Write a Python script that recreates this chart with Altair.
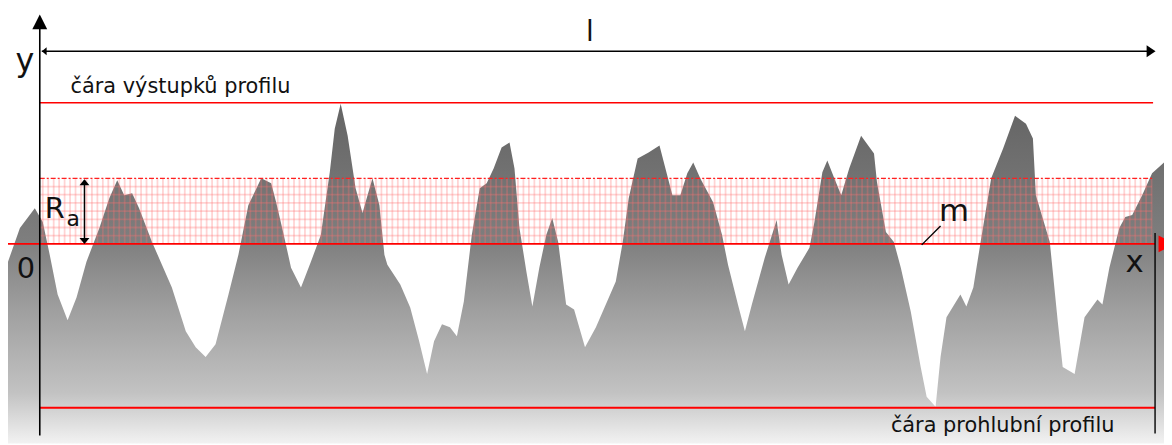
import altair as alt
import pandas as pd
import numpy as np

# Roughness profile: x = position along the sampling length, y = height relative to mean line m
PROFILE_X = [-3.2, -2.0, -0.5, 0.3, 1.0, 1.8, 2.8, 3.7, 4.7, 6.0,
             7.0, 7.8, 8.5, 9.3, 10.0, 11.3, 12.3, 13.3, 14.7, 15.7,
             16.7, 17.7, 19.0, 20.0, 21.0, 22.3, 23.3, 23.8, 24.5, 25.3,
             26.3, 27.3, 28.3, 29.2, 29.7, 30.3, 31.0, 31.8, 32.5, 32.8,
             33.5, 34.2, 34.7, 35.0, 36.3, 37.3, 38.2, 39.0, 39.7, 40.5,
             41.3, 42.0, 42.7, 43.5, 44.3, 45.0, 45.7, 46.5, 47.3, 47.8,
             48.3, 49.0, 49.6, 50.3, 51.0, 51.6, 52.2, 52.7, 53.0, 53.8,
             54.9, 56.0, 58.0, 58.7, 59.3, 60.2, 61.3, 62.4, 63.0, 63.7,
             64.5, 65.2, 65.8, 66.5, 67.8, 68.7, 69.3, 70.3, 71.0, 71.7,
             73.0, 74.2, 74.3, 74.7, 75.4, 76.3, 77.5, 78.0, 78.8, 79.3,
             80.0, 80.7, 81.5, 82.7, 84.0, 84.3, 85.2, 86.0, 86.7, 87.7,
             88.7, 89.3, 90.2, 90.7, 91.3, 92.7, 93.3, 94.0, 94.8, 95.8,
             97.0, 98.2, 99.3, 100.0, 100.3, 101.7, 102.5, 103.0, 104.2, 105.2,
             106.5, 107.0, 107.7, 108.7, 109.3, 110.0, 111.0, 112.0, 113.2]
PROFILE_Y = [-1.8, 1.6, 3.6, 2.2, -1.1, -5.1, -7.7, -5.4, -1.8, 1.6,
             4.6, 6.4, 4.9, 5.1, 3.6, 0.2, -2.1, -4.4, -8.8, -10.4,
             -11.4, -10.1, -5.1, -1.1, 3.9, 6.6, 6.1, 4.2, 1.2, -2.4,
             -4.4, -1.8, 0.9, 7.2, 11.6, 14.1, 10.9, 5.6, 3.1, 4.2,
             6.6, 3.9, -1.1, -2.1, -4.1, -6.4, -9.8, -13.1, -9.8, -8.1,
             -8.4, -9.3, -5.8, 0.9, 5.6, 6.1, 7.6, 9.7, 10.2, 7.6,
             1.6, -2.8, -6.3, -2.4, 0.9, 2.6, 0.2, -3.8, -6.1, -6.6,
             -10.4, -8.4, -3.8, 0.2, 4.6, 8.6, 9.2, 9.9, 7.6, 4.9,
             4.9, 7.1, 8.2, 6.6, 4.2, 0.9, -2.1, -6.1, -8.8, -6.1,
             -1.4, 2.4, 1.6, -1.1, -4.1, -2.4, -0.4, 2.2, 7.2, 8.4,
             6.6, 4.9, 7.6, 10.9, 9.1, 6.2, 1.2, 0.2, -2.4, -6.8,
             -12.4, -15.4, -16.4, -11.4, -7.4, -5.1, -6.3, -4.4, 0.6, 6.6,
             9.6, 12.9, 12.1, 10.6, 4.9, 0.2, -7.8, -12.4, -13.1, -7.4,
             -5.6, -6.1, -2.4, 1.6, 2.7, 2.9, 4.9, 7.1, 8.2]

# reference levels
L_START, L_END = 0.0, 112.0      # sampling length l
Y_PEAK = 14.2                    # čára výstupků profilu
Y_VALLEY = -16.5                 # čára prohlubní profilu
Y_RA = 6.6                       # Ra
Y_MEAN = 0.0                     # mean line m
X_MIN, X_MAX = -3.2, 113.2
Y_MIN, Y_MAX = -20.1, 23.6

# texts
TEXT_LEFT = ["čára výstupků profilu", "čára prohlubní profilu", "R", "a"]
TEXT_LEFT_X = [3.1, 85.7, 0.5, 2.7]
TEXT_LEFT_Y = [15.2, -18.9, 2.6, 1.8]
TEXT_LEFT_SIZE = [21, 21, 29, 22]
TEXT_CENTER = ["y", "l", "0", "m", "x"]
TEXT_CENTER_X = [-1.5, 55.4, -1.4, 92.05, 110.25]
TEXT_CENTER_Y = [17.4, 20.4, -3.4, 2.3, -2.8]
TEXT_CENTER_SIZE = [32, 28, 29, 31, 31]

W, H = 1164, 437
xs = alt.Scale(domain=[X_MIN, X_MAX], nice=False, zero=False)
ys = alt.Scale(domain=[Y_MIN, Y_MAX], nice=False, zero=False)


def X(f):
    return alt.X(f, type="quantitative", scale=xs, axis=None)


def Y(f):
    return alt.Y(f, type="quantitative", scale=ys, axis=None)


prof = pd.DataFrame({"x": PROFILE_X, "y": PROFILE_Y, "base": Y_MIN})
area = alt.Chart(prof).mark_area(
    interpolate="linear",
    color=alt.Gradient(
        gradient="linear", x1=1, x2=1, y1=0, y2=1,
        stops=[alt.GradientStop(color="#646464", offset=0),
               alt.GradientStop(color="#7e7e7e", offset=0.4),
               alt.GradientStop(color="#9e9e9e", offset=0.6),
               alt.GradientStop(color="#c2c2c2", offset=0.85),
               alt.GradientStop(color="#f2f2f2", offset=1)])
).encode(x=X("x"), y=Y("y"), y2=alt.Y2("base"))

# Ra band grid
gx = np.arange(L_START + 0.3, L_END, 0.55)
gy = np.linspace(Y_MEAN, Y_RA, 9)[1:-1]
vgrid = pd.DataFrame({"x": gx, "x2": gx, "y": Y_MEAN, "y2": Y_RA})
hgrid = pd.DataFrame({"x": L_START, "x2": L_END, "y": gy, "y2": gy})
grid = pd.concat([vgrid, hgrid])
grid_layer = alt.Chart(grid).mark_rule(color="#ff7070", opacity=0.3, strokeWidth=1.8).encode(
    x=X("x"), x2=alt.X2("x2"), y=Y("y"), y2=alt.Y2("y2"))

# red reference lines
red = pd.DataFrame({
    "x": [L_START, L_START, X_MIN],
    "x2": [L_END + 0.1, L_END + 0.3, L_END + 0.3],
    "y": [Y_PEAK, Y_VALLEY, Y_MEAN],
    "y2": [Y_PEAK, Y_VALLEY, Y_MEAN],
    "w": [1.5, 2.2, 1.6],
})
red_layer = alt.Chart(red).mark_rule(color="#ff0000").encode(
    x=X("x"), x2=alt.X2("x2"), y=Y("y"), y2=alt.Y2("y2"),
    strokeWidth=alt.StrokeWidth("w:Q", scale=None))
ra_top = pd.DataFrame({"x": [L_START], "x2": [L_END], "y": [Y_RA], "y2": [Y_RA]})
ra_layer = alt.Chart(ra_top).mark_rule(color="#ff2020", strokeWidth=1.2, strokeDash=[5, 2, 2, 2]).encode(
    x=X("x"), x2=alt.X2("x2"), y=Y("y"), y2=alt.Y2("y2"))

# black lines: y axis, x end, dimension l, Ra arrow, m leader
blk = pd.DataFrame({
    "x": [L_START, L_END + 0.3, L_START + 0.2, 4.5, 88.8],
    "x2": [L_START, L_END + 0.3, L_END, 4.5, 90.7],
    "y": [-19.3, 1.1, 19.4, 0.3, -0.1],
    "y2": [22.4, -19.1, 19.4, 6.4, 1.8],
    "w": [1.6, 1.4, 1.6, 1.5, 1.4],
})
blk_layer = alt.Chart(blk).mark_rule(color="#000000").encode(
    x=X("x"), x2=alt.X2("x2"), y=Y("y"), y2=alt.Y2("y2"),
    strokeWidth=alt.StrokeWidth("w:Q", scale=None))


def arrow(x, y, path, size, color="#000000"):
    d = pd.DataFrame({"x": [x], "y": [y]})
    return alt.Chart(d).mark_point(shape=path, size=size, filled=True, opacity=1,
                                   color=color, strokeWidth=0).encode(x=X("x"), y=Y("y"))


arrows = [
    arrow(0.0, 22.35, "M0,-1L1,1L-1,1Z", 225),
    arrow(111.9, 19.4, "M0.75,0L-0.75,-1L-0.75,1Z", 144),
    arrow(0.45, 19.4, "M-0.6,0L0.6,-1L0.6,1Z", 64),
    arrow(4.5, 6.2, "M0,-0.6L1,0.6L-1,0.6Z", 100),
    arrow(4.5, 0.3, "M0,0.6L1,-0.6L-1,-0.6Z", 100),
    arrow(113.5, 0.0, "M1,0L-1,-1L-1,1Z", 289, "#ff0000"),
]

tl = pd.DataFrame({"t": TEXT_LEFT, "x": TEXT_LEFT_X, "y": TEXT_LEFT_Y, "s": TEXT_LEFT_SIZE})
tc = pd.DataFrame({"t": TEXT_CENTER, "x": TEXT_CENTER_X, "y": TEXT_CENTER_Y, "s": TEXT_CENTER_SIZE})
text_l = alt.Chart(tl).mark_text(align="left", baseline="alphabetic", font="DejaVu Sans", color="#111111").encode(
    x=X("x"), y=Y("y"), text="t:N", size=alt.Size("s:Q", scale=None))
text_c = alt.Chart(tc).mark_text(align="center", baseline="alphabetic", font="DejaVu Sans", color="#111111").encode(
    x=X("x"), y=Y("y"), text="t:N", size=alt.Size("s:Q", scale=None))

chart = alt.layer(area, grid_layer, red_layer, ra_layer, blk_layer, *arrows, text_l, text_c).properties(
    width=W, height=H, padding=0, autosize=alt.AutoSizeParams(type="none")
).configure_view(stroke=None)

chart.save("out.html", embed_options={"renderer": "svg", "actions": False})
